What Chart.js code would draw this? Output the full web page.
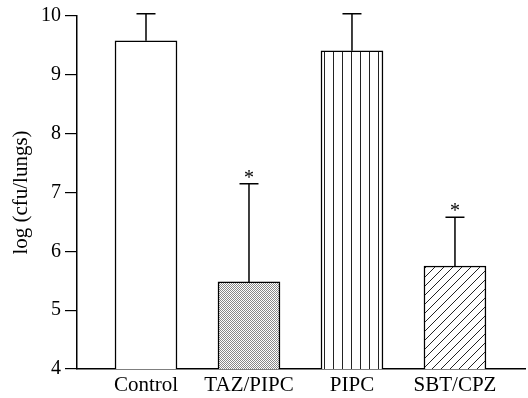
<!DOCTYPE html>
<html>
<head>
<meta charset="utf-8">
<script src="https://cdn.jsdelivr.net/npm/chart.js@4.4.0/dist/chart.umd.min.js"></script>
<style>
  body { margin: 0; background: #fff; }
  #chart { display: block; }
</style>
</head>
<body>
<canvas id="chart" width="528" height="398"></canvas>
<script>
// values
const groups = ["Control", "TAZ/PIPC", "PIPC", "SBT/CPZ"];
const meanLog = [9.58, 5.48, 9.41, 5.75];
const errorTop = [10.04, 7.15, 10.04, 6.58];
const significant = [false, true, false, true];
const yTicks = [4, 5, 6, 7, 8, 9, 10];

const serif = "'Liberation Serif', 'DejaVu Serif', serif";

function makePattern(kind) {
  const c = document.createElement("canvas");
  const g = c.getContext("2d");
  if (kind === "plain") {
    c.width = 2; c.height = 2;
    g.fillStyle = "#fff"; g.fillRect(0, 0, 2, 2);
  } else if (kind === "dots") {
    c.width = 2; c.height = 2;
    g.fillStyle = "#fff"; g.fillRect(0, 0, 2, 2);
    g.fillStyle = "#888";
    g.fillRect(0, 0, 1, 1);
    g.fillRect(1, 1, 1, 1);
  } else if (kind === "vlines") {
    c.width = 9; c.height = 9;
    g.fillStyle = "#fff"; g.fillRect(0, 0, 9, 9);
    g.fillStyle = "#222"; g.fillRect(0, 0, 1, 9);
  } else if (kind === "diag") {
    c.width = 9; c.height = 9;
    g.fillStyle = "#fff"; g.fillRect(0, 0, 9, 9);
    g.strokeStyle = "#222"; g.lineWidth = 1;
    g.beginPath();
    g.moveTo(-1, 10); g.lineTo(10, -1);
    g.stroke();
  }
  return g.createPattern(c, "repeat");
}

const fills = [makePattern("plain"), makePattern("dots"), makePattern("vlines"), makePattern("diag")];

const errorBars = {
  id: "errorBars",
  afterDatasetsDraw(chart) {
    const { ctx, scales: { y } } = chart;
    const meta = chart.getDatasetMeta(0);
    ctx.save();
    ctx.strokeStyle = "#000";
    ctx.fillStyle = "#000";
    ctx.lineWidth = 1.5;
    ctx.font = "20px " + serif;
    ctx.textAlign = "center";
    ctx.textBaseline = "middle";
    meta.data.forEach((bar, i) => {
      const top = y.getPixelForValue(errorTop[i]);
      ctx.beginPath();
      ctx.moveTo(bar.x, bar.y);
      ctx.lineTo(bar.x, top);
      ctx.moveTo(bar.x - 9.5, top);
      ctx.lineTo(bar.x + 9.5, top);
      ctx.stroke();
      if (significant[i]) {
        ctx.fillText("*", bar.x, top - 5);
      }
    });
    ctx.restore();
  }
};

new Chart(document.getElementById("chart"), {
  type: "bar",
  data: {
    datasets: [{
      data: meanLog.map((v, i) => ({ x: i + 1, y: v })),
      backgroundColor: fills,
      borderColor: "#000",
      borderWidth: 1.5,
      borderSkipped: "bottom",
      barThickness: 62
    }]
  },
  options: {
    responsive: false,
    animation: false,
    events: [],
    layout: { padding: { top: 14, right: 3, left: 0, bottom: 0 } },
    plugins: {
      legend: { display: false },
      tooltip: { enabled: false }
    },
    scales: {
      x: {
        type: "linear",
        offset: false,
        min: 0.33,
        max: 4.68,
        afterBuildTicks: (scale) => {
          scale.ticks = groups.map((g, i) => ({ value: i + 1 }));
        },
        afterFit: (scale) => { scale.height = 29; },
        ticks: {
          callback: (v) => groups[v - 1],
          color: "#000",
          font: { family: serif, size: 21 },
          padding: 4,
          maxRotation: 0,
          autoSkip: false
        },
        grid: { drawOnChartArea: false, drawTicks: false },
        border: { color: "#000", width: 1.5 }
      },
      y: {
        min: 4,
        max: 10,
        afterBuildTicks: (scale) => {
          scale.ticks = yTicks.map((v) => ({ value: v }));
        },
        afterFit: (scale) => { scale.width = 77; },
        ticks: {
          color: "#000",
          font: { family: serif, size: 20 },
          padding: 4
        },
        grid: { drawOnChartArea: false, tickLength: 12, color: "#000", lineWidth: 1.2 },
        border: { color: "#000", width: 1.5 },
        title: {
          display: true,
          text: "log (cfu/lungs)",
          color: "#000",
          font: { family: serif, size: 21 },
          padding: { top: 9, bottom: 0 }
        }
      }
    }
  },
  plugins: [errorBars]
});
</script>
</body>
</html>
